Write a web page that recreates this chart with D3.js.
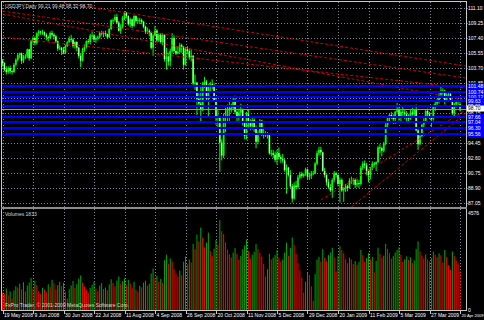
<!DOCTYPE html>
<html>
<head>
<meta charset="utf-8">
<script src="https://cdn.jsdelivr.net/npm/d3@7"></script>
<style>
body { margin: 0; background: #000; }
svg text { font-family: "Liberation Sans", Arial, sans-serif; }
</style>
</head>
<body>
<div id="content"></div>
<script>
// Daily bars, 19 May 2008 .. 20 Apr 2009: [open, high, low, close].
var ohlc = [
  // May 2008
  [104.6,104.8,103.9,104.3],[104.3,104.4,103.3,103.5],[103.5,103.9,102.9,103.2],[103.2,103.9,103.0,103.7],[103.7,104.0,103.0,103.3],
  [103.3,103.5,102.9,103.2],[103.2,104.3,103.1,104.1],[104.1,104.9,103.9,104.7],[104.7,105.5,104.5,105.3],[105.3,105.6,104.9,105.5],
  // Jun
  [105.5,105.6,104.2,104.6],[104.6,105.3,104.3,105.1],[105.1,105.4,104.8,105.1],[105.1,106.1,104.9,106.0],[106.0,106.0,104.6,104.9],
  [104.9,107.2,104.8,107.0],[107.0,107.6,106.7,107.4],[107.4,107.6,106.5,106.8],[106.8,108.1,106.6,108.0],[108.0,108.4,107.6,108.2],
  [108.2,108.3,107.8,108.1],[108.1,108.4,107.8,108.1],[108.1,108.2,107.6,107.8],[107.8,108.0,107.1,107.5],[107.5,107.7,107.0,107.4],
  [107.4,108.2,107.3,108.0],[108.0,108.3,107.6,107.8],[107.8,108.0,107.2,107.6],[107.6,107.8,106.8,107.0],[107.0,107.1,105.8,106.1],
  [106.1,106.5,105.9,106.2],
  // Jul
  [106.2,106.3,105.3,105.9],[105.9,106.3,105.4,105.6],[105.6,106.6,105.5,106.4],[106.4,107.0,106.3,106.9],[106.9,107.6,106.8,107.3],
  [107.3,107.8,106.9,107.2],[107.2,107.4,106.2,106.4],[106.4,107.0,106.1,106.9],[106.9,107.0,105.8,106.2],[106.2,106.3,104.9,105.2],
  [105.2,105.5,103.8,104.6],[104.6,106.2,104.5,106.0],[106.0,106.6,105.7,106.3],[106.3,107.1,106.1,107.0],[107.0,107.3,106.7,106.9],
  [106.9,107.9,106.6,107.7],[107.7,108.2,107.5,107.7],[107.7,107.9,106.9,107.2],[107.2,107.6,106.8,107.4],[107.4,107.7,107.1,107.5],
  [107.5,108.2,107.3,108.0],[108.0,108.3,107.7,108.0],[108.0,108.2,107.5,108.0],
  // Aug
  [108.0,108.3,107.6,107.9],[107.9,108.0,107.3,107.5],[107.5,108.6,107.4,108.5],[108.5,109.7,108.4,109.6],[109.6,109.8,109.2,109.6],
  [109.6,110.3,109.4,110.0],[110.0,110.4,109.1,109.3],[109.3,109.5,108.2,108.3],[108.3,109.1,107.9,108.8],[108.8,110.1,108.5,109.9],
  [109.9,110.7,109.6,110.5],[110.5,110.6,109.8,110.1],[110.1,110.2,108.9,109.1],[109.1,109.9,108.7,109.7],[109.7,109.8,108.6,108.9],
  [108.9,110.2,108.8,110.1],[110.1,110.2,109.3,109.5],[109.5,109.9,109.2,109.6],[109.6,109.9,109.1,109.6],[109.6,109.8,109.1,109.4],
  [109.4,109.5,108.6,108.8],
  // Sep
  [108.8,108.9,107.9,108.2],[108.2,108.7,107.9,108.3],[108.3,108.5,107.6,108.1],[108.1,108.2,106.0,106.2],[106.2,107.9,105.2,107.7],
  [107.7,108.9,107.6,108.3],[108.3,108.5,106.9,107.1],[107.1,108.0,106.9,107.8],[107.8,108.0,106.7,106.9],[106.9,108.0,106.5,107.8],
  [107.8,107.8,104.5,104.8],[104.8,106.2,103.5,105.1],[105.1,105.6,104.0,104.5],[104.5,106.1,103.9,105.8],[105.8,108.0,105.6,107.4],
  [107.4,107.7,105.6,105.8],[105.8,106.3,105.3,105.5],[105.5,106.4,105.4,105.7],[105.7,106.8,105.5,106.5],[106.5,106.7,105.6,106.2],
  [106.2,106.4,103.5,104.1],[104.1,106.3,104.0,106.0],
  // Oct
  [106.0,106.4,105.4,105.8],[105.8,106.1,104.7,105.0],[105.0,106.0,104.5,105.2],[105.2,105.3,101.6,101.8],[101.8,102.9,101.0,101.9],
  [101.9,102.0,97.9,99.9],[99.9,100.6,98.9,99.3],[99.3,101.4,97.0,98.6],[98.6,102.0,98.4,101.7],[101.7,102.6,101.2,102.0],
  [102.0,102.2,99.7,99.9],[99.9,101.7,97.8,101.5],[101.5,102.0,100.6,101.7],[101.7,102.3,101.1,101.6],[101.6,101.8,99.5,99.7],
  [99.7,99.9,96.7,97.6],[97.6,98.6,96.3,97.6],[97.6,97.7,90.9,94.5],[94.5,94.9,92.3,92.9],[92.9,98.1,92.6,97.7],
  [97.7,98.8,95.8,97.6],[97.6,99.2,97.0,98.7],[98.7,99.5,97.0,98.5],
  // Nov
  [98.5,99.3,98.2,98.8],[98.8,100.0,98.6,99.6],[99.6,100.3,98.0,98.3],[98.3,98.6,97.1,97.6],[97.6,98.7,97.2,98.2],
  [98.2,99.3,97.8,98.6],[98.6,98.7,96.6,96.9],[96.9,97.2,94.9,95.3],[95.3,98.3,94.9,98.0],[98.0,98.6,96.4,96.9],
  [96.9,97.4,96.0,96.5],[96.5,97.6,96.1,97.3],[97.3,97.5,95.8,96.4],[96.4,96.6,93.8,94.6],[94.6,96.0,94.3,95.7],
  [95.7,97.4,95.4,97.2],[97.2,97.3,95.3,95.6],[95.6,96.3,95.0,95.4],[95.4,95.9,95.2,95.5],[95.5,95.8,95.0,95.5],
  // Dec
  [95.5,95.6,93.0,93.2],[93.2,93.6,92.8,93.2],[93.2,93.6,92.6,93.0],[93.0,93.4,92.1,92.4],[92.4,93.6,91.8,93.2],
  [93.2,93.9,92.4,92.7],[92.7,93.0,92.0,92.5],[92.5,93.1,92.0,92.3],[92.3,92.5,90.9,91.1],[91.1,91.8,88.2,91.4],
  [91.4,91.5,90.3,90.5],[90.5,91.1,88.9,89.1],[89.1,89.4,87.1,87.6],[87.6,89.6,87.5,89.2],[89.2,89.8,88.7,89.0],
  [89.0,90.5,88.8,90.2],[90.2,90.9,90.0,90.6],[90.6,90.9,90.1,90.4],[90.4,90.7,90.2,90.6],[90.6,91.4,90.4,91.2],
  [91.2,91.3,89.9,90.3],[90.3,90.8,89.9,90.4],[90.4,91.0,90.0,90.7],
  // Jan 2009
  [90.7,91.0,90.5,90.7],[90.7,92.1,90.6,91.9],[91.9,93.5,91.7,93.2],[93.2,94.0,92.9,93.6],[93.6,94.0,92.9,93.3],
  [93.3,93.4,90.9,91.0],[91.0,91.4,90.2,90.5],[90.5,90.6,89.2,89.6],[89.6,90.0,88.8,89.0],[89.0,89.4,88.4,88.6],
  [88.6,90.1,87.7,89.9],[89.9,91.0,89.6,90.7],[90.7,90.9,90.2,90.5],[90.5,90.6,89.1,89.4],[89.4,90.2,87.1,89.9],
  [89.9,90.1,88.4,88.6],[88.6,89.0,87.2,88.8],[88.8,89.4,88.4,89.1],[89.1,89.3,88.5,88.9],[88.9,90.1,88.8,89.8],
  [89.8,90.3,89.4,89.8],[89.8,90.1,89.3,89.9],
  // Feb
  [89.9,90.1,88.9,89.3],[89.3,90.0,89.0,89.5],[89.5,89.9,88.9,89.4],[89.4,91.6,89.2,91.4],[91.4,92.2,91.1,91.9],
  [91.9,92.3,91.3,91.7],[91.7,92.0,90.5,91.0],[91.0,91.2,89.6,90.5],[90.5,91.5,90.0,91.3],[91.3,92.2,91.1,91.9],
  [91.9,92.1,91.4,91.8],[91.8,92.2,91.0,92.1],[92.1,94.1,92.0,93.9],[93.9,94.3,93.2,93.8],[93.8,94.0,92.8,93.5],
  [93.5,94.6,93.3,94.4],[94.4,96.9,94.2,96.7],[96.7,97.6,96.3,97.5],[97.5,98.1,97.0,97.9],[97.9,98.3,97.4,97.6],
  // Mar
  [97.6,98.0,96.8,97.4],[97.4,98.4,96.8,98.3],[98.3,99.4,98.0,98.5],[98.5,99.1,97.2,97.6],[97.6,98.6,97.1,98.3],
  [98.3,98.9,97.6,98.2],[98.2,98.6,97.4,98.0],[98.0,98.4,97.0,97.5],[97.5,98.0,96.9,97.4],[97.4,98.5,97.3,98.2],
  [98.2,98.8,97.8,98.0],[98.0,98.6,97.6,98.5],[98.5,99.2,95.9,96.0],[96.0,96.3,93.6,94.3],[94.3,95.6,94.2,95.3],
  [95.3,96.8,95.2,96.7],[96.7,97.5,96.4,97.2],[97.2,98.5,97.0,98.4],[98.4,98.7,97.7,98.0],[98.0,98.3,97.4,97.7],
  [97.7,97.8,96.4,97.4],[97.4,99.2,97.2,98.9],
  // Apr
  [98.9,99.7,98.4,99.3],[99.3,99.9,99.0,99.5],[99.5,100.7,99.3,100.2],[100.2,101.4,100.1,100.9],[100.9,101.2,100.4,100.9],
  [100.9,101.0,99.2,99.6],[99.6,100.6,99.5,100.4],[100.4,100.7,100.1,100.5],[100.5,100.6,99.5,99.7],[99.7,99.8,97.9,98.1],
  [98.1,99.4,97.7,99.2],[99.2,99.7,98.8,99.5],[99.5,99.8,99.1,99.6],[99.21,99.48,98.32,98.70]
];

// Tick volume per bar, same order as ohlc.
var volumes = [
  820,760,1010,690,880,540,930,1120,1060,1240, 980,1310,870,1150,1290,1510,1020,1390,1180,890,
  760,1050,970,830,1210,1080,1420,1260,960,1180,1330,
  1120,1290,870,540,980,1160,1370,1040,1220,1480,1630,1290,1110,960,820,1050,1190,1340,1010,880,1150,1270,990,
  1060,930,1210,1450,1280,1120,1390,1580,1240,1360,1490,1180,1420,1250,1030,1330,950,860,1140,1070,1290,
  1380,1150,1240,1720,1960,1530,1610,1340,1470,1280,2350,2610,2180,2440,2290,1930,1720,1580,1860,1650,2280,2520,
  2160,2390,2240,3120,2870,3560,3240,3890,3420,2960,3180,3650,2780,2540,2890,3310,3070,4240,3720,3580,3190,2860,2630,
  2480,2710,2920,2640,2380,2550,2860,3040,3330,2790,2420,2610,2750,3120,2880,2690,2510,2170,1580,1920,
  2650,2380,2470,2590,2820,2460,2290,2380,2710,3180,2560,2930,3420,3060,2640,2210,1860,1520,820,1340,1780,1650,1120,
  430,1690,2380,2510,2290,2870,2460,2320,2590,2710,2940,2480,1820,2560,3010,2830,2670,2390,2210,2470,2390,2180,
  2310,2140,2260,2830,2590,2270,2450,2680,2390,2510,1780,2320,2940,2650,2470,2560,3120,2880,2690,2420,
  2540,2710,2830,2960,2610,2280,2390,2530,2360,2480,2210,2340,2890,3240,2760,2570,2430,2620,2380,2290,2450,2760,
  2610,2490,2670,2580,2240,2830,2510,2120,1890,2760,2540,2330,2190,1833
];

// Time axis labels, one every 16 bars.
var dateLabels = ["19 May 2008", "9 Jun 2008", "30 Jun 2008", "22 Jul 2008", "11 Aug 2008",
  "4 Sep 2008", "26 Sep 2008", "20 Oct 2008", "11 Nov 2008", "5 Dec 2008", "29 Dec 2008",
  "20 Jan 2009", "11 Feb 2009", "5 Mar 2009", "27 Mar 2009", "20 Apr 2009"];
var labelEvery = 16;

// Price axis labels.
var priceTicks = [111.10, 109.25, 107.40, 105.55, 103.70, 101.85, 100.00, 98.15,
  96.30, 94.45, 92.60, 90.75, 88.90, 87.05];
var volumeTicks = [4576, 0];

// Horizontal levels (blue) and trend lines [bar1, price1, bar2, price2] (red dashed).
var levels = [101.48, 100.74, 100.12, 99.63, 99.01, 97.66, 97.04, 96.30, 95.56];
var trendLines = [
  [32, 111.72, 243, 103.95],
  [0, 110.73, 243, 102.47],
  [0, 110.36, 243, 99.75],
  [0, 107.52, 243, 101.23],
  [183, 86.56, 243, 98.15],
  [167, 87.42, 243, 98.52]
];

var symbol = "USDJPY,Daily";
var copyright = "FxPro Trader, \u00a9 2001-2009 MetaQuotes Software Corp.";

// Layout.
var W = 484, H = 320;
var left = 2, right = 466;
var mainTop = 2, mainBottom = 207;
var volTop = 210, volBottom = 310;
var fg = '#c8c8c8', gridColor = '#7a8a9a';
var fs = 5;

var svg = d3.select('#content')
              .append('svg')
              .attr('width', W)
              .attr('height', H)
              .style('display', 'block')
              .style('background', '#000');

var x = d3.scaleLinear().domain([0, 240]).range([2.5, 460]);
var y = d3.scaleLinear()
          .domain([priceTicks[0], priceTicks[priceTicks.length - 1]])
          .range([8, 203]);
var yVol = d3.scaleLinear().domain([volumeTicks[1], volumeTicks[0]]).range([volBottom, 213]);

var defs = svg.append('defs');
defs.append('clipPath').attr('id', 'clipMain').append('rect')
    .attr('x', left).attr('y', mainTop).attr('width', right - left).attr('height', mainBottom - mainTop);
defs.append('clipPath').attr('id', 'clipVol').append('rect')
    .attr('x', left).attr('y', volTop).attr('width', right - left).attr('height', volBottom - volTop);

// Grid.
var grid = svg.append('g');
grid.selectAll('line.h').data(priceTicks).enter().append('line')
    .attr('x1', left).attr('x2', right)
    .attr('y1', function(d) { return Math.round(y(d)) + 0.5; })
    .attr('y2', function(d) { return Math.round(y(d)) + 0.5; })
    .attr('stroke', gridColor).attr('stroke-dasharray', '1,2');
grid.selectAll('line.v').data(dateLabels).enter().append('line')
    .attr('x1', function(d, i) { return Math.round(x(i * labelEvery)) + 0.5; })
    .attr('x2', function(d, i) { return Math.round(x(i * labelEvery)) + 0.5; })
    .attr('y1', mainTop).attr('y2', volBottom)
    .attr('stroke', gridColor).attr('stroke-dasharray', '1,2');

// Candles.
var main = svg.append('g').attr('clip-path', 'url(#clipMain)');
var candle = main.selectAll('g.c').data(ohlc).enter().append('g');
candle.append('line')
    .attr('x1', function(d, i) { return x(i); })
    .attr('x2', function(d, i) { return x(i); })
    .attr('y1', function(d) { return y(d[1]); })
    .attr('y2', function(d) { return y(d[2]); })
    .attr('stroke', '#00ff00').attr('stroke-width', 1);
candle.append('rect')
    .attr('x', function(d, i) { return x(i) - 0.9; })
    .attr('width', 1.8)
    .attr('y', function(d) { return y(Math.max(d[0], d[3])); })
    .attr('height', function(d) { return Math.max(0.8, Math.abs(y(d[0]) - y(d[3]))); })
    .attr('fill', '#00ff00');
candle.filter(function(d) { return d[3] < d[0]; }).append('rect')
    .attr('x', function(d) { return x(ohlc.indexOf(d)) - 0.35; })
    .attr('width', 0.7)
    .attr('y', function(d) { return y(d[0]); })
    .attr('height', function(d) { return Math.abs(y(d[0]) - y(d[3])); })
    .attr('fill', '#ffffff');

// Trend lines and levels drawn over the bars.
main.selectAll('line.t').data(trendLines).enter().append('line')
    .attr('x1', function(d) { return x(d[0]); })
    .attr('y1', function(d) { return y(d[1]); })
    .attr('x2', function(d) { return x(d[2]); })
    .attr('y2', function(d) { return y(d[3]); })
    .attr('stroke', '#d00000').attr('stroke-width', 1).attr('stroke-dasharray', '3,2');
main.selectAll('line.l').data(levels).enter().append('line')
    .attr('x1', left).attr('x2', right)
    .attr('y1', function(d) { return y(d); })
    .attr('y2', function(d) { return y(d); })
    .attr('stroke', '#0000ff').attr('stroke-width', 2);

// Bid line.
var last = ohlc[ohlc.length - 1];
main.append('line')
    .attr('x1', left).attr('x2', right)
    .attr('y1', Math.round(y(last[3])) + 0.5).attr('y2', Math.round(y(last[3])) + 0.5)
    .attr('stroke', '#8a98a8');

// Volumes: green when above previous bar, red otherwise.
var vol = svg.append('g').attr('clip-path', 'url(#clipVol)');
vol.selectAll('line').data(volumes).enter().append('line')
    .attr('x1', function(d, i) { return x(i); })
    .attr('x2', function(d, i) { return x(i); })
    .attr('y1', yVol(0))
    .attr('y2', function(d) { return yVol(d); })
    .attr('stroke', function(d, i) { return (i > 0 && d > volumes[i - 1]) ? '#00a800' : '#ff0000'; })
    .attr('stroke-width', 1);

// Frame.
var frame = svg.append('g').attr('stroke', fg).attr('fill', 'none');
frame.append('line').attr('x1', 1.5).attr('x2', 1.5).attr('y1', 1).attr('y2', volBottom + 1);
frame.append('line').attr('x1', 1).attr('x2', right + 1).attr('y1', 1.5).attr('y2', 1.5);
frame.append('line').attr('x1', right + 0.5).attr('x2', right + 0.5).attr('y1', 1).attr('y2', volBottom + 1);
frame.append('line').attr('x1', 1).attr('x2', right + 1).attr('y1', volBottom + 0.5).attr('y2', volBottom + 0.5);
frame.append('rect').attr('x', 1).attr('y', mainBottom).attr('width', right).attr('height', 2)
    .attr('fill', '#8c8c8c').attr('stroke', 'none');

// Price axis labels.
var axis = svg.append('g').attr('font-size', fs).attr('fill', '#ffffff');
axis.selectAll('text.p').data(priceTicks).enter().append('text')
    .attr('x', right + 2)
    .attr('y', function(d) { return y(d) + 1.8; })
    .text(function(d) { return d.toFixed(2); });
axis.selectAll('line.pt').data(priceTicks).enter().append('line')
    .attr('x1', right).attr('x2', right + 1.5)
    .attr('y1', function(d) { return Math.round(y(d)) + 0.5; })
    .attr('y2', function(d) { return Math.round(y(d)) + 0.5; })
    .attr('stroke', fg);

// Level tags on the axis.
var tags = svg.append('g').attr('font-size', fs);
levels.forEach(function(d) {
  tags.append('rect').attr('x', right + 1).attr('y', y(d) - 3).attr('width', W - right - 1).attr('height', 6)
      .attr('fill', '#0000ff');
  tags.append('text').attr('x', right + 2).attr('y', y(d) + 1.8).attr('fill', '#ffffff').text(d.toFixed(2));
});
tags.append('rect').attr('x', right + 1).attr('y', y(last[3]) - 3).attr('width', W - right - 1).attr('height', 6)
    .attr('fill', '#ffffff');
tags.append('text').attr('x', right + 2).attr('y', y(last[3]) + 1.8).attr('fill', '#000').text(last[3].toFixed(2));

// Volume axis labels.
axis.selectAll('text.v').data(volumeTicks).enter().append('text')
    .attr('x', right + 2)
    .attr('y', function(d) { return yVol(d) + 1.8; })
    .text(function(d) { return d; });

// Time axis labels with ticks; the last one is set a bit smaller so it stays inside the window.
var lastLabel = dateLabels.length - 1;
axis.selectAll('text.d').data(dateLabels).enter().append('text')
    .attr('x', function(d, i) { return x(i * labelEvery) + 1.5; })
    .attr('font-size', function(d, i) { return i === lastLabel ? 4.1 : fs; })
    .attr('y', 316.5)
    .text(function(d) { return d; });
axis.selectAll('line.dt').data(dateLabels).enter().append('line')
    .attr('x1', function(d, i) { return Math.round(x(i * labelEvery)) + 0.5; })
    .attr('x2', function(d, i) { return Math.round(x(i * labelEvery)) + 0.5; })
    .attr('y1', volBottom).attr('y2', volBottom + 4)
    .attr('stroke', fg);

// Titles.
var info = svg.append('g').attr('font-size', fs).attr('fill', '#d8d8d8');
info.append('text').attr('x', 5).attr('y', 8)
    .text(symbol + '  ' + last.map(function(v) { return v.toFixed(2); }).join(' '));
info.append('text').attr('x', 5).attr('y', 216)
    .text('Volumes ' + volumes[volumes.length - 1]);
info.append('text').attr('x', 5).attr('y', 307).text(copyright);
</script>
</body>
</html>
